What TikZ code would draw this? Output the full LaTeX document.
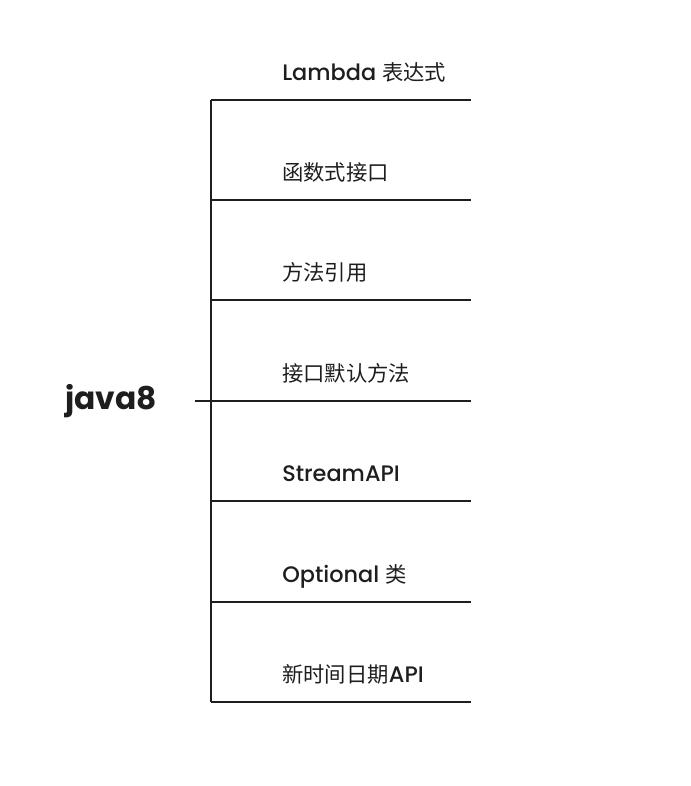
\documentclass[tikz,border=0pt]{standalone}
\usepackage{fontspec}
\setmainfont{Poppins}
\newfontfamily\med{Poppins Medium}
\newfontfamily\cjk{Noto Sans CJK SC}
\definecolor{ink}{HTML}{1E1E1E}

\newcommand{\zh}[1]{{\fontsize{16}{19}\cjk #1}}

\tikzset{
    branch/.style={draw=ink, line width=1.5pt},
    leaf/.style={anchor=base west, inner sep=0pt, text=ink, font=\fontsize{16.8}{20}\med},
    root/.style={text=ink, font=\fontsize{23.5}{28}\selectfont\bfseries}
}

\begin{document}
\begin{tikzpicture}[x=0.75pt, y=-0.75pt]
    \useasboundingbox (0,0) rectangle (690,786);

    \node[root] (J) at (111,401) {java8};

    \coordinate (S) at (195,401);

    \coordinate (B1) at (211,100);
    \coordinate (B2) at (211,200);
    \coordinate (B3) at (211,300);
    \coordinate (B4) at (211,401);
    \coordinate (B5) at (211,501);
    \coordinate (B6) at (211,602);
    \coordinate (B7) at (211,702);

    \coordinate (E1) at (471,100);
    \coordinate (E2) at (471,200);
    \coordinate (E3) at (471,300);
    \coordinate (E4) at (471,401);
    \coordinate (E5) at (471,501);
    \coordinate (E6) at (471,602);
    \coordinate (E7) at (471,702);

    \node[leaf] (L1) at (282,80) {Lambda \zh{表达式}};
    \node[leaf] (L2) at (282,180) {\zh{函数式接口}};
    \node[leaf] (L3) at (282,280) {\zh{方法引用}};
    \node[leaf] (L4) at (282,381) {\zh{接口默认方法}};
    \node[leaf] (L5) at (282,481) {StreamAPI};
    \node[leaf] (L6) at (282,582) {Optional \zh{类}};
    \node[leaf] (L7) at (282,682) {\zh{新时间日期}API};



    \draw[branch] (S)--(B4);
    \draw[branch] (B1)--(B7);

    \draw[branch] (B1)--(E1);
    \draw[branch] (B2)--(E2);
    \draw[branch] (B3)--(E3);
    \draw[branch] (B4)--(E4);
    \draw[branch] (B5)--(E5);
    \draw[branch] (B6)--(E6);
    \draw[branch] (B7)--(E7);

\end{tikzpicture}
\end{document}
